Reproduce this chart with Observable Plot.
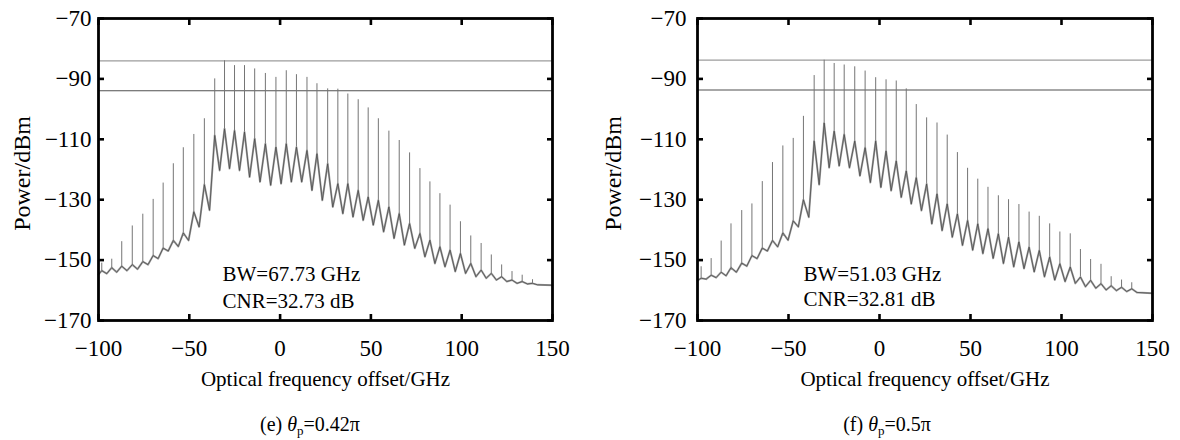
<!DOCTYPE html>
<html><head><meta charset="utf-8">
<script src="https://cdn.jsdelivr.net/npm/d3@7"></script>
<script src="https://cdn.jsdelivr.net/npm/@observablehq/plot@0.6"></script>
<style>
html,body{margin:0;padding:0;background:#fff;}
#wrap{display:flex;width:1180px;height:440px;overflow:hidden;}
.panel{position:relative;height:440px;}
.panel svg{display:block;}
.cap{position:absolute;top:414px;font-family:'Liberation Serif',serif;font-size:20px;white-space:nowrap;transform:translateX(-50%);line-height:1;color:#000;}
.cap sub{font-size:13px;vertical-align:-4px;line-height:0;}
</style></head><body><div id="wrap"></div>
<script>
// axes
const xTicks = [-100, -50, 0, 50, 100, 150];
const yTicks = [-170, -150, -130, -110, -90, -70];
const xLabel = "Optical frequency offset/GHz";
const yLabel = "Power/dBm";

// panel (e) theta_p = 0.42 pi
const freqE = [-98.2,-92.7,-87.2,-81.4,-75.6,-69.9,-64.4,-58.8,-53.3,-47.5,-41.7,-36.0,-30.6,-25.1,-19.6,-14.0,-8.1,-2.3,3.4,9.0,14.8,20.3,26.2,31.8,37.3,43.0,48.5,54.1,59.9,65.6,71.3,77.0,82.5,88.0,93.6,99.3,105.0,110.7,116.3,122.0,127.7,133.3,139.0];
const peakE = [-151,-149.7,-143.9,-138.7,-134.8,-129.9,-124.5,-118.1,-112.8,-108.4,-103.2,-90,-84,-85.6,-85.6,-86.7,-88.2,-89.5,-87.3,-88.6,-89.5,-91.6,-93.3,-93.4,-95,-96.9,-99.6,-103.2,-107.3,-110.4,-114.5,-119.7,-124.1,-128,-131.8,-137.3,-142,-144.5,-148.3,-151.6,-153.8,-155,-156.5];
const cuspE = [-153.5,-152.5,-152,-151.5,-150.5,-148.5,-146,-143.5,-141,-134,-125,-108.7,-106.5,-107.1,-107.6,-109.8,-111.5,-112.6,-111.5,-112.6,-113.7,-114.8,-118.1,-124.7,-124.7,-126.9,-129.1,-130.2,-132.4,-134.6,-137.9,-141.2,-143.4,-145.6,-146.7,-147.8,-151.1,-153.3,-154.4,-155.5,-156.6,-157.1,-157.7];
const troughE = [-154.5,-154,-153.5,-153,-151.5,-149.5,-147,-145.5,-143.5,-139,-133.5,-120.3,-119.7,-120.3,-122.5,-124.1,-125.2,-124.7,-124.1,-124.1,-126.9,-130.2,-132.4,-134.6,-135.7,-136.8,-138.4,-140.6,-142.8,-145,-146.1,-148.9,-151.1,-152.2,-153.8,-154.4,-155.5,-156,-156.6,-157.1,-157.7,-157.9,-158.2];
const floorE = [-154.8, -158.3];   // level at -100 GHz and at 150 GHz
const refE = [-84, -93.9];         // max line, max - 10 dB
const noteE = ["BW=67.73 GHz", "CNR=32.73 dB"];

// panel (f) theta_p = 0.5 pi
const freqF = [-98.0,-92.5,-87.0,-81.6,-75.7,-70.1,-64.4,-58.8,-53.1,-47.4,-41.8,-35.9,-30.4,-24.9,-19.4,-13.6,-7.9,-2.1,3.6,9.2,14.7,20.2,25.9,31.6,37.2,42.8,48.4,54.0,59.6,65.3,70.9,76.6,82.2,87.8,93.5,99.1,104.8,110.4,116.0,121.7,127.3,133.0,138.6];
const peakF = [-152.2,-149.5,-143.7,-138,-133.6,-131.4,-124,-117.7,-112.2,-109.7,-102.4,-88.9,-83.8,-84.9,-85.4,-86,-87.4,-89.6,-90.3,-90.7,-93.3,-98.5,-102.9,-104.6,-108.6,-114.4,-119.6,-123.2,-125.9,-128.7,-130,-131.6,-134.1,-135.5,-138,-140.7,-141.3,-146.5,-149.8,-151.4,-155.5,-156.6,-157.5];
const cuspF = [-156,-155,-154,-152.5,-151,-148.5,-146,-143.5,-141,-137,-130,-110.6,-104.6,-107.3,-108.4,-110.6,-112.8,-110.6,-113.9,-117.2,-120.5,-122.7,-124.8,-128.1,-131.4,-134.7,-136.9,-138,-139.6,-141.3,-142.4,-144,-145.7,-146.8,-149,-151.2,-152.3,-155.6,-156.7,-157.8,-158.5,-159,-159.5];
const troughF = [-156.3,-155.8,-155.2,-154,-152,-149.5,-147,-145.6,-143.4,-139,-135.8,-125,-119.4,-118.8,-119.4,-122.1,-124.3,-125.9,-127,-129.2,-131.4,-133.6,-138,-140.2,-142.4,-145.1,-146.7,-147.8,-149.4,-151.1,-152.2,-152.8,-153.9,-155.5,-156.6,-157.1,-157.7,-158.8,-159.3,-159.9,-160.1,-160.4,-160.7];
const floorF = [-156.8, -161];
const refF = [-83.8, -93.7];
const noteF = ["BW=51.03 GHz", "CNR=32.81 dB"];

const captions = [
  {tag: "(e)", value: "0.42π"},
  {tag: "(f)", value: "0.5π"}
];

const FONT = "'Liberation Serif', 'Times New Roman', serif";

function build(freq, peak, cusp, trough, floor) {
  const combs = freq.map((f, i) => ({f, peak: peak[i], cusp: cusp[i]}));
  const base = [{f: xTicks[0], v: floor[0]}];
  freq.forEach((f, i) => {
    base.push({f, v: cusp[i]});
    const next = i < freq.length - 1 ? freq[i + 1] : f + (f - freq[i - 1]);
    base.push({f: (f + next) / 2, v: trough[i]});
  });
  base.push({f: xTicks[xTicks.length - 1], v: floor[1]});
  return {combs, base};
}

function panel({freq, peak, cusp, trough, floor, ref, note, ml, mr, padL, ylabDx, noteDx, noteDy}) {
  const {combs, base} = build(freq, peak, cusp, trough, floor);
  return Plot.plot({
    width: 590, height: 440,
    marginTop: 18, marginBottom: 120, marginLeft: ml, marginRight: mr,
    x: {domain: [xTicks[0], xTicks[xTicks.length - 1]]},
    y: {domain: [yTicks[0], yTicks[yTicks.length - 1]]},
    style: {fontFamily: FONT, fontSize: "23px", background: "white", color: "black", overflow: "visible"},
    marks: [
      Plot.ruleY([ref[0]], {stroke: "#9c9c9c", strokeWidth: 1.3}),
      Plot.ruleY([ref[1]], {stroke: "#505050", strokeWidth: 1.1}),
      Plot.line(base, {x: "f", y: "v", stroke: "#a2a2a2", strokeWidth: 2.0, strokeLinejoin: "round"}),
      Plot.ruleX(combs, {x: "f", y1: "cusp", y2: "peak", stroke: "#757575", strokeWidth: 1.0}),
      Plot.line(base, {x: "f", y: "v", stroke: "#404040", strokeWidth: 0.7}),
      Plot.frame({stroke: "black", strokeWidth: 2.8}),
      // inward tick marks on all four sides
      Plot.axisY({anchor: "left", ticks: yTicks, tickSize: 6, dx: 6, tickFormat: () => "", label: null, strokeWidth: 2.6}),
      Plot.axisY({anchor: "right", ticks: yTicks, tickSize: 6, dx: -6, tickFormat: () => "", label: null, strokeWidth: 2.6}),
      Plot.axisX({anchor: "bottom", ticks: xTicks, tickSize: 6, dy: -6, tickFormat: () => "", label: null, strokeWidth: 2.6}),
      Plot.axisX({anchor: "top", ticks: xTicks, tickSize: 6, dy: 6, tickFormat: () => "", label: null, strokeWidth: 2.6}),
      // tick labels
      Plot.axisY({anchor: "left", ticks: yTicks, tickSize: 0, tickPadding: padL, label: null}),
      Plot.axisX({anchor: "bottom", ticks: xTicks, tickSize: 0, tickPadding: 19, label: null}),
      // axis titles
      Plot.text([yLabel], {text: d => d, frameAnchor: "left", textAnchor: "middle", lineAnchor: "middle", dx: ylabDx, dy: 4, rotate: -90, fontSize: 24}),
      Plot.text([xLabel], {text: d => d, frameAnchor: "bottom", textAnchor: "middle", dy: 65, fontSize: 21}),
      // annotation
      Plot.text([note[0]], {text: d => d, frameAnchor: "top-left", textAnchor: "start", dx: noteDx, dy: noteDy[0], fontSize: 21}),
      Plot.text([note[1]], {text: d => d, frameAnchor: "top-left", textAnchor: "start", dx: noteDx, dy: noteDy[1], fontSize: 21})
    ]
  });
}

const wrap = document.getElementById("wrap");
const configs = [
  {freq: freqE, peak: peakE, cusp: cuspE, trough: troughE, floor: floorE, ref: refE, note: noteE,
   ml: 98, mr: 38, padL: 7, ylabDx: -76, noteDx: 124, noteDy: [248, 275], capX: 310},
  {freq: freqF, peak: peakF, cusp: cuspF, trough: troughF, floor: floorF, ref: refF, note: noteF,
   ml: 107, mr: 28, padL: 11, ylabDx: -84, noteDx: 106, noteDy: [248, 273], capX: 297}
];
configs.forEach((c, i) => {
  const div = document.createElement("div");
  div.className = "panel";
  div.style.width = "590px";
  div.appendChild(panel(c));
  const cap = document.createElement("div");
  cap.className = "cap";
  cap.style.left = c.capX + "px";
  cap.innerHTML = `${captions[i].tag} <i>θ</i><sub>p</sub>=${captions[i].value}`;
  div.appendChild(cap);
  wrap.appendChild(div);
});
</script>
</body></html>
